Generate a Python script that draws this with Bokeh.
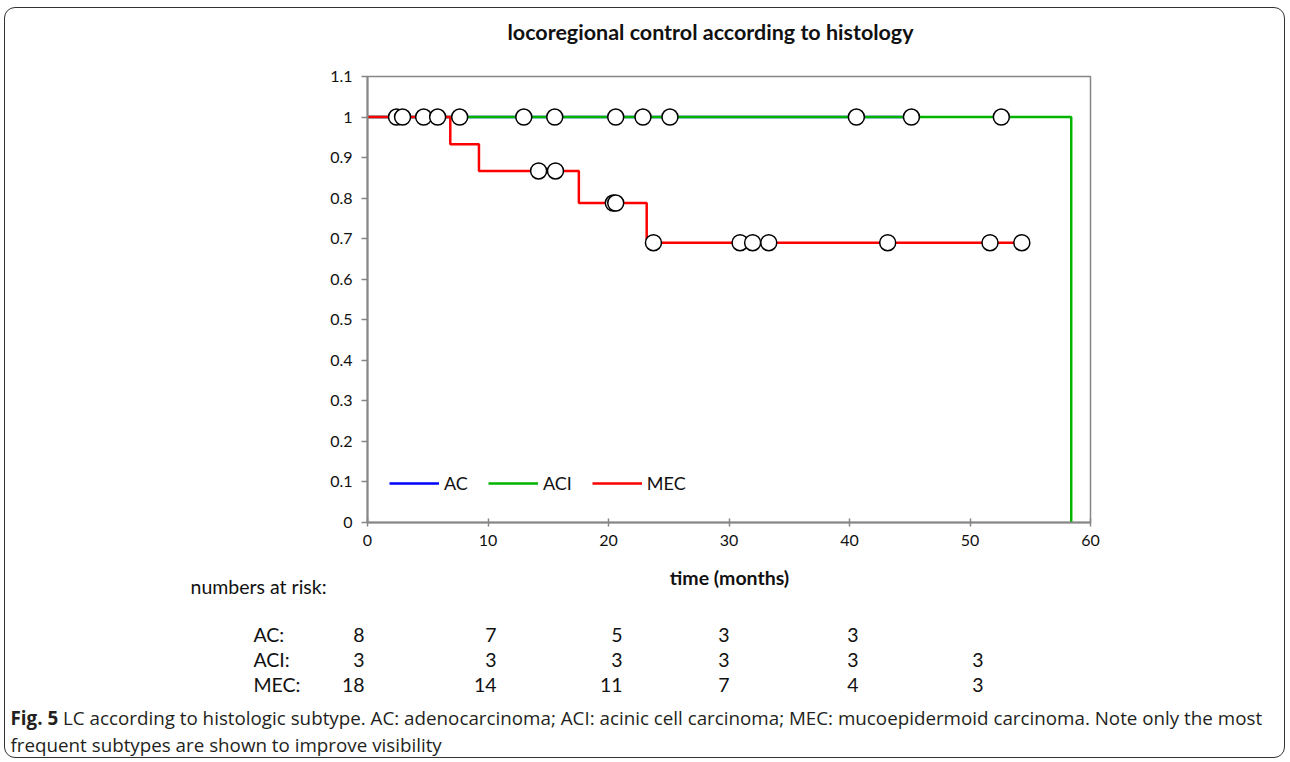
from bokeh.plotting import figure
from bokeh.models import Range1d, FixedTicker, NumeralTickFormatter, Legend, LegendItem, Div
from bokeh.layouts import column
from bokeh.embed import file_html
from bokeh.resources import INLINE

# ---- data ----
groups = ["AC", "ACI", "MEC"]
colors = {"AC": "#0000FF", "ACI": "#00B400", "MEC": "#FF0000"}

# Kaplan-Meier step curves (time in months, LC probability)
ac_t = [0, 45.1]
ac_s = [1.0, 1.0]
aci_t = [0, 58.4]
aci_s = [1.0, 0.0]
mec_t = [0, 6.87, 9.25, 17.54, 23.17, 54.3]
mec_s = [1.0, 0.933, 0.867, 0.788, 0.690, 0.690]

# censored observations
ac_cens_t = [4.66, 7.65, 12.97, 15.54, 20.6, 22.86, 25.1, 40.57, 45.14]
ac_cens_s = [1, 1, 1, 1, 1, 1, 1, 1, 1]
aci_cens_t = [52.6]
aci_cens_s = [1]
mec_cens_t = [2.41, 2.91, 5.82, 14.2, 15.6, 20.4, 20.6, 23.73, 30.92, 31.96, 33.3, 43.17, 51.66, 54.3]
mec_cens_s = [1, 1, 1, 0.867, 0.867, 0.788, 0.788, 0.69, 0.69, 0.69, 0.69, 0.69, 0.69, 0.69]

x_ticks = [0, 10, 20, 30, 40, 50, 60]
y_ticks = [0, 0.1, 0.2, 0.3, 0.4, 0.5, 0.6, 0.7, 0.8, 0.9, 1.0, 1.1]

risk_rows = ["AC:", "ACI:", "MEC:"]
risk_ac = ["8", "7", "5", "3", "3", ""]
risk_aci = ["3", "3", "3", "3", "3", "3"]
risk_mec = ["18", "14", "11", "7", "4", "3"]

title_text = "locoregional control according to histology"
xlabel_text = "time (months)"
risk_title = "numbers at risk:"
caption_bold = "Fig. 5"
caption_line1 = ("LC according to histologic subtype. AC: adenocarcinoma; ACI: acinic cell carcinoma; "
                 "MEC: mucoepidermoid carcinoma. Note only the most")
caption_line2 = "frequent subtypes are shown to improve visibility"

# ---- layout geometry ----
W = 1279
TOP_H = 50
FIG_H = 498
BOT_H = 201
TXT = "#111111"

def span(text, x, y, align="left", size=17, bold=False, font="Lato", color=TXT):
    if align == "left":
        pos = "left:%.1fpx;" % x
        tr = "translateY(-50%)"
    elif align == "right":
        pos = "right:%.1fpx;" % (W - x)
        tr = "translateY(-50%)"
    else:
        pos = "left:%.1fpx;" % x
        tr = "translate(-50%,-50%)"
    return ('<span style="position:absolute;%stop:%.1fpx;transform:%s;white-space:nowrap;'
            'font-family:%s;font-size:%spx;font-weight:%s;color:%s;line-height:1.2;">%s</span>'
            % (pos, y, tr, font, size, "bold" if bold else "normal", color, text))

def box(inner, h):
    return ('<div style="position:relative;width:%dpx;height:%dpx;overflow:visible;">%s</div>'
            % (W, h, inner))

# ---- title ----
title_div = Div(text=box(span(title_text, 705.5, 24.5, align="center", size=21.5, bold=True), TOP_H),
                width=W, height=TOP_H, margin=0)

# ---- figure ----
p = figure(width=W, height=FIG_H, output_backend="svg", toolbar_location=None,
           x_range=Range1d(0, 60), y_range=Range1d(0, 1.1), margin=0,
           min_border_left=362, min_border_right=194, min_border_top=18, min_border_bottom=34)
p.xgrid.visible = False
p.ygrid.visible = False
p.outline_line_color = "#868686"
p.outline_line_width = 1.5
p.background_fill_color = "white"
p.border_fill_color = "white"

AX = "#868686"
for ax in (p.xaxis[0], p.yaxis[0]):
    ax.axis_line_color = AX
    ax.axis_line_width = 2
    ax.major_tick_line_color = AX
    ax.major_tick_line_width = 1.5
    ax.minor_tick_line_color = None
    ax.major_label_text_font = "Lato"
    ax.major_label_text_font_size = "16px"
    ax.major_label_text_color = TXT

p.xaxis.ticker = FixedTicker(ticks=x_ticks)
p.xaxis.major_tick_in = 4
p.xaxis.major_tick_out = 4
p.xaxis.major_label_standoff = 8

p.yaxis.ticker = FixedTicker(ticks=y_ticks)
p.yaxis.formatter = NumeralTickFormatter(format="0.[0]")
p.yaxis.major_tick_in = 0
p.yaxis.major_tick_out = 6
p.yaxis.major_label_standoff = 9

lw = 2.5
r_ac = p.step(ac_t, ac_s, mode="after", line_color=colors["AC"], line_width=lw)
r_aci = p.step(aci_t, aci_s, mode="after", line_color=colors["ACI"], line_width=lw)
r_mec = p.step(mec_t, mec_s, mode="after", line_color=colors["MEC"], line_width=lw)

for tx, sy in ((ac_cens_t, ac_cens_s), (aci_cens_t, aci_cens_s), (mec_cens_t, mec_cens_s)):
    p.scatter(tx, sy, marker="circle", size=16, fill_color="white",
              line_color="black", line_width=1.5)

legend = Legend(items=[LegendItem(label=g, renderers=[r]) for g, r in zip(groups, (r_ac, r_aci, r_mec))],
                orientation="horizontal", location=(22, 28), glyph_width=50, glyph_height=20,
                label_standoff=5, spacing=20, padding=10, border_line_color=None,
                background_fill_alpha=0, label_text_font="Lato", label_text_font_size="18px",
                label_text_color=TXT)
p.add_layout(legend)

# ---- bottom texts: axis title, numbers at risk, caption ----
RS = 19.5
parts = [span(xlabel_text, 724.5, 22, align="center", size=19.5, bold=True),
         span(risk_title, 185.5, 31, size=RS)]
row_y = [79, 104, 129]
col_right = [359.5, 491.5, 617.5, 724.5, 853.5, 978.5]
for lab, ry, vals in zip(risk_rows, row_y, (risk_ac, risk_aci, risk_mec)):
    parts.append(span(lab, 248.5, ry, size=RS))
    for cx, v in zip(col_right, vals):
        if v:
            parts.append(span(v, cx, ry, align="right", size=RS))
cap_font = "Open Sans"
parts.append(span("<b>%s</b> %s" % (caption_bold, caption_line1), 5.5, 162, size=18.8,
                  font=cap_font, color="#231f20"))
parts.append(span(caption_line2, 5.5, 189, size=18.8, font=cap_font, color="#231f20"))
bottom_div = Div(text=box("".join(parts), BOT_H), width=W, height=BOT_H, margin=0)

layout = column(title_div, p, bottom_div, spacing=0, margin=(7, 0, 0, 4),
                styles={"border": "1.5px solid #333333", "border-radius": "11px",
                        "background-color": "white"})

open("out.html", "w").write(file_html(layout, INLINE))
